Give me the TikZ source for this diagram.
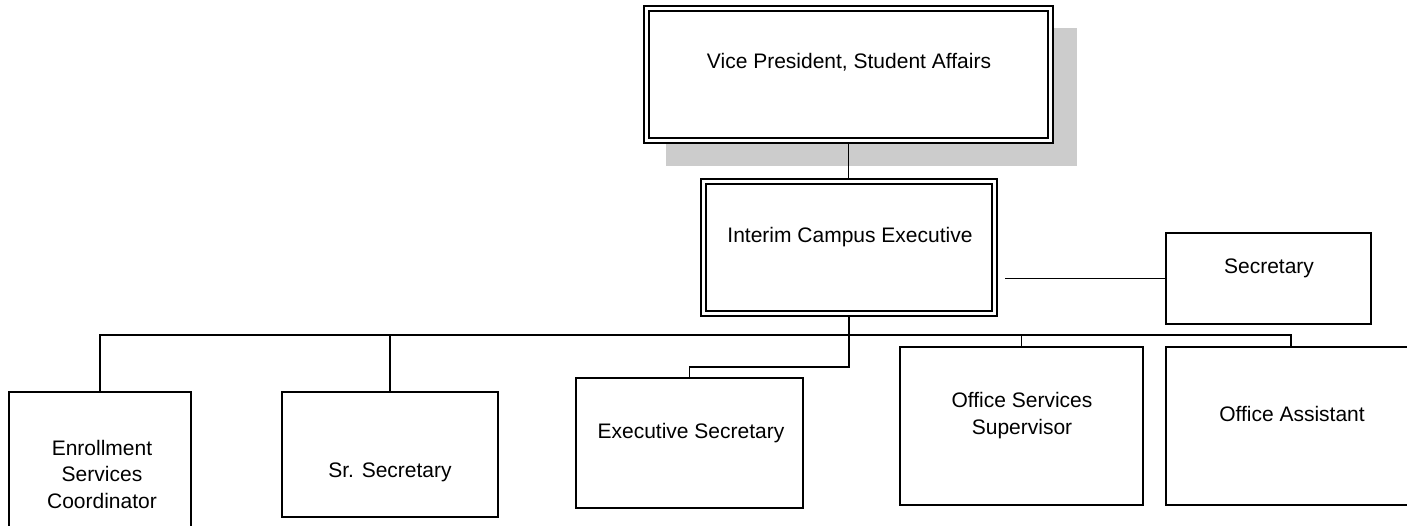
\documentclass[tikz,border=0pt]{standalone}
\usepackage{fontspec}
\setmainfont{Liberation Sans}
\begin{document}
\begin{tikzpicture}[x=1pt,y=-1pt,line width=1.5pt,
  box/.style={draw,fill=white,inner sep=0pt,outer sep=0pt,line join=miter},
  lbl/.style={font=\fontsize{21}{26.5}\selectfont,align=center,inner sep=0pt},
  wire/.style={draw,line width=1.5pt}]
\useasboundingbox (0,0) rectangle (1407,525);
\clip (0,0) rectangle (1407,525);
% shadow
\fill[black!20] (666,28) rectangle (1077,166);
% boxes
\node[box,minimum width=409pt,minimum height=137pt] (vp) at (848.5,74.5) {};
\draw ([xshift=5pt,yshift=-5pt]vp.north west) rectangle ([xshift=-5pt,yshift=5pt]vp.south east);
\node[box,minimum width=296pt,minimum height=137pt] (ice) at (849,247.5) {};
\draw ([xshift=5pt,yshift=-5pt]ice.north west) rectangle ([xshift=-5pt,yshift=5pt]ice.south east);
\node[box,minimum width=205pt,minimum height=91pt] (sec) at (1268.5,278.5) {};
\node[box,minimum width=182pt,minimum height=164pt] (enr) at (100,474) {};
\node[box,minimum width=216pt,minimum height=125pt] (sr) at (390,454.5) {};
\node[box,minimum width=227pt,minimum height=130pt] (exe) at (689.5,443) {};
\node[box,minimum width=243pt,minimum height=158pt] (oss) at (1021.5,426) {};
\node[box,minimum width=250pt,minimum height=158pt] (oa) at (1291,426) {};
% texts
\node[lbl,anchor=base] (vpt) at (849,68) {Vice President, Student Affairs};
\node[lbl,anchor=base] (icet) at (850,242) {Interim Campus Executive};
\node[lbl,anchor=base] (sect) at (1269,273) {Secretary};
\node[lbl] (enrt) at (102,474) {Enrollment\\Services\\Coordinator};
\node[lbl,anchor=base] (srt) at (390,477) {Sr. Secretary};
\node[lbl,anchor=base] (exet) at (691,438) {Executive Secretary};
\node[lbl] (osst) at (1022,415.5) {Office Services\\Supervisor};
\node[lbl,anchor=base] (oat) at (1292,421) {Office Assistant};
% connectors
\coordinate (bus) at (849,335);
\coordinate (jog) at (849,367);
\coordinate (secgap) at (1005,278.5);
\draw[wire] (vp.south) -- (vp.south |- ice.north);
\draw[wire] (secgap) -- (sec.west);
\draw[wire] (ice.south) -- (jog) -| (exe.north);
\draw[wire] (enr.north) -- (enr.north |- bus) -- (oa.north |- bus) -- (oa.north);
\draw[wire] (sr.north) -- (sr.north |- bus);
\draw[wire] (oss.north) -- (oss.north |- bus);
\end{tikzpicture}
\end{document}
